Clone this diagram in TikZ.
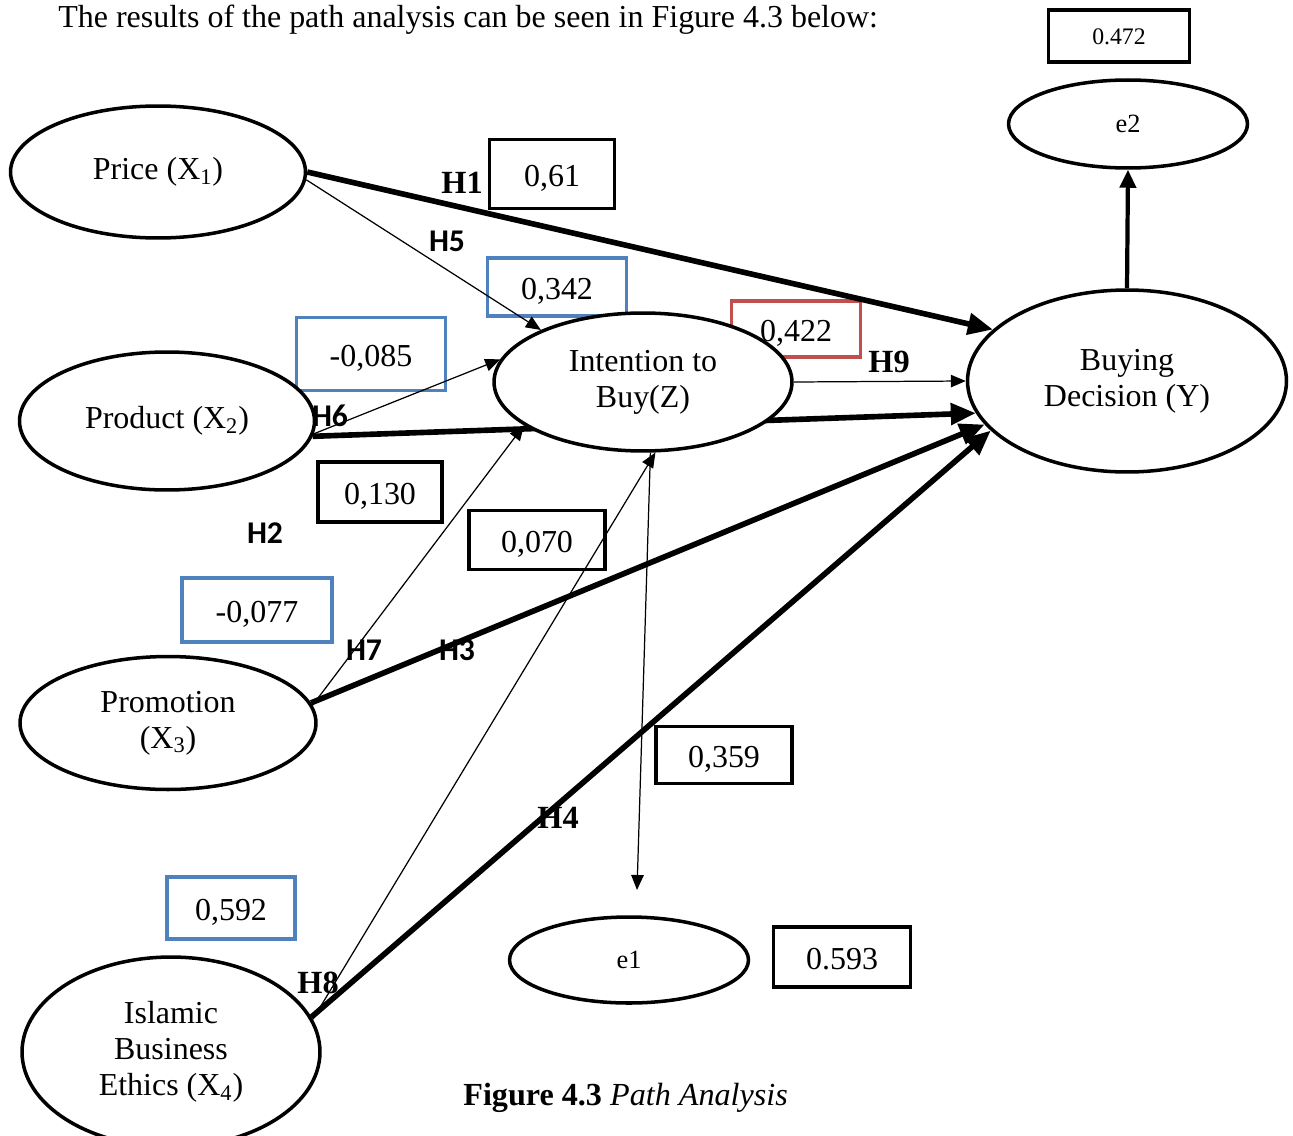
\documentclass[tikz,border=0pt]{standalone}
\usepackage{fontspec}
\setmainfont{Liberation Serif}
\newfontfamily\hfont{Carlito}
\usepackage{xcolor}
\usetikzlibrary{shapes.geometric,arrows.meta}

\definecolor{boxblue}{HTML}{4F81BD}
\definecolor{boxred}{HTML}{C0504D}
\pgfdeclarelayer{bg}
\pgfsetlayers{bg,main}

\begin{document}
\begin{tikzpicture}[x=0.02cm,y=-0.02cm,
    latent/.style={ellipse, draw, line width=2pt, fill=white, inner sep=0pt, align=center, font=\fontsize{18.2}{20.6}\selectfont},
    coef/.style={draw, line width=1.8pt, inner sep=0pt, text height=16.5pt, text depth=2pt, font=\fontsize{18.2}{20}\selectfont},
    bluecoef/.style={coef, draw=boxblue, line width=2.2pt},
    hyp/.style={font=\fontsize{18.4}{20}\selectfont\bfseries},
    hyps/.style={font=\hfont\fontsize{18}{20}\selectfont\bfseries},
    mainpath/.style={line width=3.2pt, -{Triangle[length=0.5cm,width=0.42cm]}},
    sidepath/.style={line width=0.7pt, -{Triangle[length=0.3cm,width=0.25cm]}}]

\clip (0,0) rectangle (1293,1135);
\useasboundingbox (0,0) rectangle (1293,1135);

% Intro sentence
\node[anchor=base west, inner sep=0pt, font=\fontsize{18.2}{20}\selectfont] (intro) at (58,28) {The results of the path analysis can be seen in Figure 4.3 below:};

% Variables
\node[latent, minimum width=5.9cm, minimum height=2.64cm] (price) at (158,172) {Price (X\textsubscript{1})};
\node[latent, minimum width=5.9cm, minimum height=2.76cm] (prod) at (167,421) {Product (X\textsubscript{2})};
\node[latent, minimum width=5.92cm, minimum height=2.66cm] (promo) at (168,723) {Promotion\\(X\textsubscript{3})};
\node[latent, minimum width=5.96cm, minimum height=3.8cm] (isl) at (171,1052) {Islamic\\Business\\Ethics (X\textsubscript{4})};
\node[latent, minimum width=5.96cm, minimum height=2.76cm] (int) at (643,382) {Intention to\\Buy(Z)};
\node[latent, minimum width=6.38cm, minimum height=3.64cm] (buy) at (1127,381) {Buying\\Decision (Y)};
\node[latent, minimum width=4.78cm, minimum height=1.76cm, font=\fontsize{15}{18}\selectfont] (e2) at (1128,124) {e2};
\node[latent, minimum width=4.78cm, minimum height=1.72cm, font=\fontsize{15}{18}\selectfont] (e1) at (629,960) {e1};
\coordinate (e1top) at (637,890);

% Coefficient boxes and paths (under the ellipses)
\begin{pgfonlayer}{bg}
    \node[coef, minimum width=2.82cm, minimum height=1.04cm, text height=12pt, font=\fontsize{13.5}{16}\selectfont] (r472) at (1119,36) {0.472};
    \node[coef, minimum width=2.5cm, minimum height=1.38cm] (c61) at (552,174) {0,61};
    \node[bluecoef, minimum width=2.78cm, minimum height=1.16cm] (c342) at (557,287) {0,342};
    \node[coef, draw=boxred, line width=2.2pt, minimum width=2.58cm, minimum height=1.12cm] (c422) at (796,329) {0,422};
    \node[bluecoef, minimum width=2.98cm, minimum height=1.46cm] (c085) at (371,354) {-0,085};
    \node[coef, minimum width=2.48cm, minimum height=1.2cm] (c130) at (380,492) {0,130};
    \node[coef, minimum width=2.72cm, minimum height=1.18cm] (c070) at (537,540) {0,070};
    \node[bluecoef, minimum width=3.0cm, minimum height=1.28cm] (c077) at (257,610) {-0,077};
    \node[coef, minimum width=2.72cm, minimum height=1.14cm] (c359) at (724,755) {0,359};
    \node[bluecoef, minimum width=2.56cm, minimum height=1.24cm] (c592) at (231,908) {0,592};
    \node[coef, minimum width=2.74cm, minimum height=1.2cm] (r593) at (842,957) {0.593};

    % direct paths
    \draw[mainpath] (price.east) -- (buy.159);
    \draw[mainpath] (prod.-6) -- (buy.192);
    \draw[mainpath] (promo.8) -- (buy.197);
    \draw[mainpath] (isl.14) -- (buy.200);
    % paths through intention
    \draw[sidepath] (price.-3) -- (int.153);
    \draw[sidepath] (prod.-5) -- (int.171);
    \draw[sidepath] (promo.7) -- (int.200);
    \draw[sidepath] (isl.13) -- (int.280);
    \draw[sidepath] (int.east) -- (buy.180);
    % residuals
    \draw[sidepath] (int.276) -- (e1top);
    \draw[line width=2.4pt, -{Triangle[length=0.36cm,width=0.32cm]}] (buy.north) -- (e2.south);
\end{pgfonlayer}

% Hypothesis labels
\node[hyp] (h1) at (462,183) {H1};
\node[hyps] (h5) at (447,241) {H5};
\node[hyps] (h6) at (330,416) {H6};
\node[hyp] (h9) at (889,362) {H9};
\node[hyps] (h2) at (265,533) {H2};
\node[hyps] (h7) at (364,650) {H7};
\node[hyps] (h3) at (457,650) {H3};
\node[hyp] (h4) at (558,818) {H4};
\node[hyp] (h8) at (318,983) {H8};

% Caption
\node[anchor=base west, inner sep=0pt, font=\fontsize{18.3}{20}\selectfont] (cap) at (463,1105) {\textbf{Figure 4.3} \textit{Path Analysis}};

\end{tikzpicture}
\end{document}
